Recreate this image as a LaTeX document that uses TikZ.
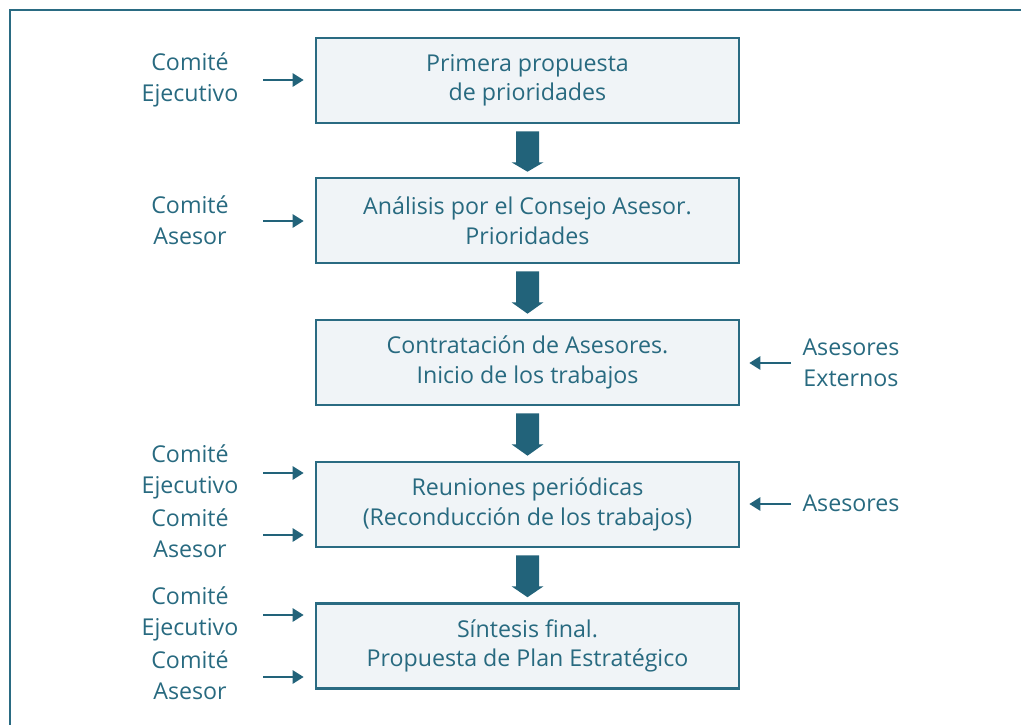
\documentclass[tikz,border=0pt]{standalone}
\usepackage{fontspec}
\setmainfont{Open Sans}
\usetikzlibrary{arrows.meta,calc}
\definecolor{teal}{HTML}{2A6B82}
\definecolor{tealtext}{HTML}{286A80}
\definecolor{boxfill}{HTML}{F0F4F7}
\definecolor{bigarrow}{HTML}{22637A}
\tikzset{
  stepbox/.style={draw=teal, line width=2.6pt, fill=boxfill, minimum width=423pt, minimum height=85pt, inner sep=0pt,
     font=\fontsize{23.2}{29.5}\selectfont, text=tealtext, align=center},
  lbl/.style={font=\fontsize{23.2}{30.5}\selectfont, text=tealtext, align=center, inner sep=0pt},
  smallarrow/.style={draw=bigarrow, line width=2.6pt, -{Triangle[length=11pt,width=13pt]}},
}
\newcommand{\bigdown}[2]{%
  \fill[bigarrow] ($(#1.south)+(-11.5,7)$) -- ($(#1.south)+(11.5,7)$) -- ($(#1.south)+(11.5,38)$)
    -- ($(#1.south)+(16,38)$) -- ($(#2.north)+(0,-5)$) -- ($(#1.south)+(-16,38)$) -- ($(#1.south)+(-11.5,38)$) -- cycle;}
\begin{document}
\begin{tikzpicture}[x=1pt,y=-1pt]
\useasboundingbox (0,0) rectangle (1021,724);
\draw[teal, line width=2.8pt] (10,740) -- (10,10) -- (1040,10);

\node[stepbox] (b1) at (527.5,80.5) {Primera propuesta\\de prioridades};
\node[stepbox] (b2) at (527.5,220.5) {Análisis por el Consejo Asesor.\\Prioridades};
\node[stepbox] (b3) at (527.5,362.5) {Contratación de Asesores.\\Inicio de los trabajos};
\node[stepbox] (b4) at (527.5,504.5) {Reuniones periódicas\\(Reconducción de los trabajos)};
\node[stepbox] (b5) at (527.5,646) {Síntesis final.\\Propuesta de Plan Estratégico};

\bigdown{b1}{b2}
\bigdown{b2}{b3}
\bigdown{b3}{b4}
\bigdown{b4}{b5}

% left labels
\node[lbl] (l1) at (190,80) {Comité\\Ejecutivo};
\node[lbl] (l2) at (190,220) {Comité\\Asesor};
\node[lbl] (l4a) at (190,472) {Comité\\Ejecutivo};
\node[lbl] (l4b) at (190,533) {Comité\\Asesor};
\node[lbl] (l5a) at (190,614) {Comité\\Ejecutivo};
\node[lbl] (l5b) at (190,675) {Comité\\Asesor};
% right labels
\node[lbl] (r3) at (851,363) {Asesores\\Externos};
\node[lbl] (r4) at (851,503) {Asesores};

\coordinate (c1) at (263,80);
\coordinate (c2) at (263,221);
\coordinate (c4a) at (263,473);
\coordinate (c4b) at (263,535);
\coordinate (c5a) at (263,615);
\coordinate (c5b) at (263,677);
\coordinate (c3) at (791,363);
\coordinate (c4r) at (791,504);

\draw[smallarrow] (c1) -- ($(c1 -| b1.west)+(-11,0)$);
\draw[smallarrow] (c2) -- ($(c2 -| b2.west)+(-11,0)$);
\draw[smallarrow] (c4a) -- ($(c4a -| b4.west)+(-11,0)$);
\draw[smallarrow] (c4b) -- ($(c4b -| b4.west)+(-11,0)$);
\draw[smallarrow] (c5a) -- ($(c5a -| b5.west)+(-11,0)$);
\draw[smallarrow] (c5b) -- ($(c5b -| b5.west)+(-11,0)$);
\draw[smallarrow] (c3) -- ($(c3 -| b3.east)+(9,0)$);
\draw[smallarrow] (c4r) -- ($(c4r -| b4.east)+(9,0)$);
\end{tikzpicture}
\end{document}
